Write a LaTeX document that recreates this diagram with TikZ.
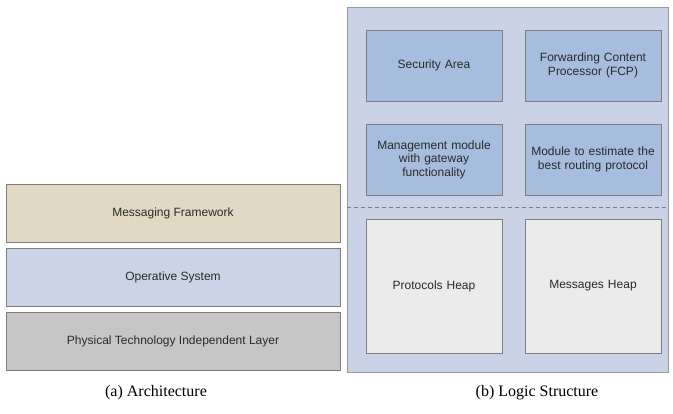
\documentclass[tikz,border=0pt]{standalone}
\usepackage{fontspec}
\setmainfont{Liberation Sans}
\newfontfamily\capfont{Liberation Serif}
\definecolor{tanfill}{HTML}{E2D9C5}
\definecolor{osfill}{HTML}{CAD4E6}
\definecolor{phyfill}{HTML}{C6C6C6}
\definecolor{outerfill}{HTML}{C9D3E5}
\definecolor{bluefill}{HTML}{A6BDDD}
\definecolor{heapfill}{HTML}{EBEBEB}
\definecolor{edgegrey}{HTML}{7E7E80}
\definecolor{txt}{HTML}{2A2A2A}
\tikzset{
  layer/.style={draw=edgegrey, line width=1pt, minimum width=334pt, minimum height=58pt, inner sep=0pt, font=\fontsize{12}{13.5}\selectfont, text=txt},
  modbox/.style={draw=edgegrey, line width=0.9pt, minimum width=136pt, minimum height=71pt, inner sep=0pt, align=center, text width=132pt, font=\fontsize{12}{13.5}\selectfont, text=txt, fill=bluefill},
  heapbox/.style={modbox, fill=heapfill, minimum height=134pt},
  caption/.style={font=\capfont\fontsize{16}{18}\selectfont, text=black}
}
\begin{document}
\begin{tikzpicture}[x=1pt,y=-1pt]
\useasboundingbox (0,0) rectangle (673,413);
% left panel
\node[layer, fill=tanfill] (mf) at (173,213) {Messaging Framework};
\node[layer, fill=osfill] (os) at (173,277) {Operative System};
\node[layer, fill=phyfill] (pl) at (173,341.5) {Physical Technology Independent Layer};
% right panel
\node[draw=edgegrey!80, line width=0.8pt, fill=outerfill, minimum width=321pt, minimum height=365pt, inner sep=0pt] (outer) at (507.5,189.5) {};
\node[modbox] (sec) at (434,65.5) {Security Area};
\node[modbox] (fcp) at (593,65.5) {Forwarding Content\\Processor (FCP)};
\node[modbox] (mgmt) at (434,159.5) {Management module\\with gateway\\functionality};
\node[modbox] (route) at (593,159.5) {Module to estimate the\\best routing protocol};
\coordinate (dl) at (347,207);
\coordinate (dr) at (668,207);
\draw[edgegrey, line width=0.8pt, dash pattern=on 4pt off 3pt] (dl) -- (dr);
\node[heapbox] (ph) at (434,286) {Protocols Heap};
\node[heapbox] (mh) at (593,286) {Messages Heap};
% captions
\node[caption] (ca) at (156,393) {(a) Architecture};
\node[caption] (cb) at (537,393) {(b) Logic Structure};
\end{tikzpicture}
\end{document}
